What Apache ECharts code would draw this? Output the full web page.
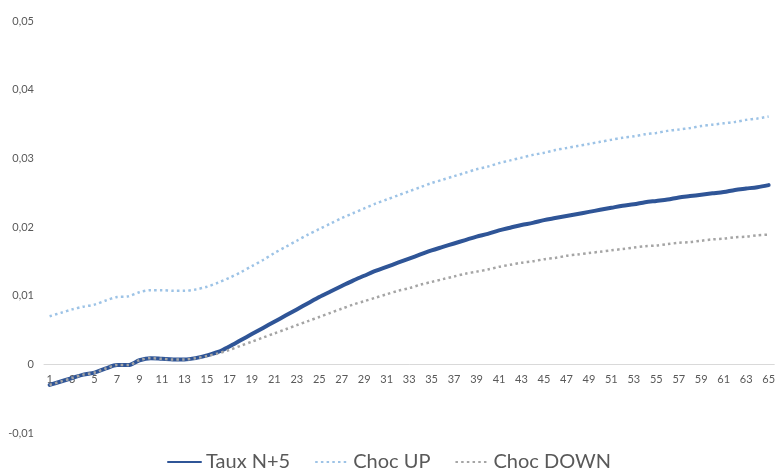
<!DOCTYPE html>
<html>
<head>
<meta charset="utf-8">
<script src="https://cdn.jsdelivr.net/npm/echarts@6/dist/echarts.min.js"></script>
<style>
html,body{margin:0;padding:0;background:#fff;}
#chart{width:778px;height:473px;}
</style>
</head>
<body>
<div id="chart"></div>
<script>
var categories = [];
for (var i = 1; i <= 65; i++) categories.push(String(i));

var tauxN5 = [
-0.0030,-0.0025,-0.0020,-0.0015,-0.0012,-0.0006,-0.0001,-0.0001,0.0006,0.0009,
0.0008,0.0007,0.0007,0.0009,0.0013,0.0018,0.0026,0.0035,0.0044,0.0053,
0.0062,0.0071,0.0080,0.0089,0.0098,0.0106,0.0114,0.0122,0.0129,0.0136,
0.0142,0.0148,0.0154,0.0160,0.0166,0.0171,0.0176,0.0181,0.0186,0.0190,
0.0195,0.0199,0.0203,0.0206,0.0210,0.0213,0.0216,0.0219,0.0222,0.0225,
0.0228,0.0231,0.0233,0.0236,0.0238,0.0240,0.0243,0.0245,0.0247,0.0249,
0.0251,0.0254,0.0256,0.0258,0.0261
];

var chocUp = [
0.0070,0.0075,0.0080,0.0084,0.0087,0.0093,0.0098,0.0099,0.0105,0.0108,
0.0108,0.0107,0.0107,0.0109,0.0113,0.0119,0.0126,0.0134,0.0143,0.0152,
0.0162,0.0171,0.0180,0.0189,0.0197,0.0205,0.0213,0.0220,0.0227,0.0234,
0.0240,0.0246,0.0252,0.0258,0.0264,0.0269,0.0274,0.0279,0.0284,0.0288,
0.0293,0.0297,0.0301,0.0305,0.0308,0.0312,0.0315,0.0318,0.0321,0.0324,
0.0327,0.0330,0.0332,0.0335,0.0337,0.0340,0.0342,0.0344,0.0347,0.0349,
0.0351,0.0353,0.0356,0.0358,0.0361
];

var chocDown = [
-0.0030,-0.0025,-0.0020,-0.0015,-0.0012,-0.0006,-0.0001,-0.0001,0.0006,0.0009,
0.0008,0.0007,0.0007,0.0009,0.0012,0.0016,0.0021,0.0027,0.0033,0.0039,
0.0045,0.0051,0.0057,0.0063,0.0069,0.0075,0.0081,0.0087,0.0092,0.0097,
0.0102,0.0107,0.0111,0.0116,0.0120,0.0124,0.0128,0.0132,0.0135,0.0138,
0.0142,0.0145,0.0148,0.0150,0.0153,0.0155,0.0158,0.0160,0.0162,0.0164,
0.0166,0.0168,0.0170,0.0172,0.0173,0.0175,0.0177,0.0178,0.0180,0.0182,
0.0183,0.0185,0.0186,0.0188,0.0189
];

var seriesNames = ['Taux N+5', 'Choc UP', 'Choc DOWN'];

var Y_MIN = -0.01, Y_MAX = 0.05;
var GRID_TOP = 21, GRID_BOTTOM = 40, H = 473;
// place the category axis on the zero line
var plotH = H - GRID_TOP - GRID_BOTTOM;
var zeroOffset = -Math.round(plotH * (0 - Y_MIN) / (Y_MAX - Y_MIN));

var chart = echarts.init(document.getElementById('chart'), null, {renderer: 'canvas'});
var FONT = 'Lato, "Liberation Sans", sans-serif';
chart.setOption({
  animation: false,
  backgroundColor: '#ffffff',
  textStyle: {fontFamily: FONT},
  grid: {left: 44, right: -1, top: GRID_TOP, bottom: GRID_BOTTOM, containLabel: false},
  legend: {
    bottom: -4,
    left: 'center',
    itemWidth: 33,
    itemHeight: 12,
    itemGap: 24,
    itemStyle: {opacity: 0},
    textStyle: {fontSize: 20, color: '#595959', fontFamily: FONT},
    data: seriesNames
  },
  xAxis: {
    type: 'category',
    data: categories,
    boundaryGap: true,
    position: 'bottom',
    offset: zeroOffset,
    axisLine: {onZero: false, lineStyle: {color: '#d9d9d9', width: 1}},
    axisTick: {show: false},
    axisLabel: {interval: 1, color: '#595959', fontSize: 11, margin: 10, fontFamily: FONT},
    splitLine: {show: false}
  },
  yAxis: {
    type: 'value',
    min: Y_MIN,
    max: Y_MAX,
    interval: 0.01,
    axisLine: {show: false},
    axisTick: {show: false},
    splitLine: {show: false},
    axisLabel: {
      color: '#595959', fontSize: 11, margin: 10, fontFamily: FONT,
      formatter: function (v) {
        if (Math.abs(v) < 1e-9) return '0';
        return v.toFixed(2).replace('.', ',');
      }
    }
  },
  series: [
    {
      name: seriesNames[0], type: 'line', data: tauxN5, symbol: 'none', smooth: 0.3, z: 3,
      itemStyle: {color: '#2F5597'},
      lineStyle: {color: '#2F5597', width: 4, cap: 'round'}
    },
    {
      name: seriesNames[1], type: 'line', data: chocUp, symbol: 'none', smooth: 0.3, z: 2,
      itemStyle: {color: '#9DC3E6'},
      lineStyle: {color: '#9DC3E6', width: 2.5, type: [2.5, 3.2]}
    },
    {
      name: seriesNames[2], type: 'line', data: chocDown, symbol: 'none', smooth: 0.3, z: 4,
      itemStyle: {color: '#A5A5A5'},
      lineStyle: {color: '#A5A5A5', width: 2.5, type: [2.5, 3.2]}
    }
  ]
});
</script>
</body>
</html>
